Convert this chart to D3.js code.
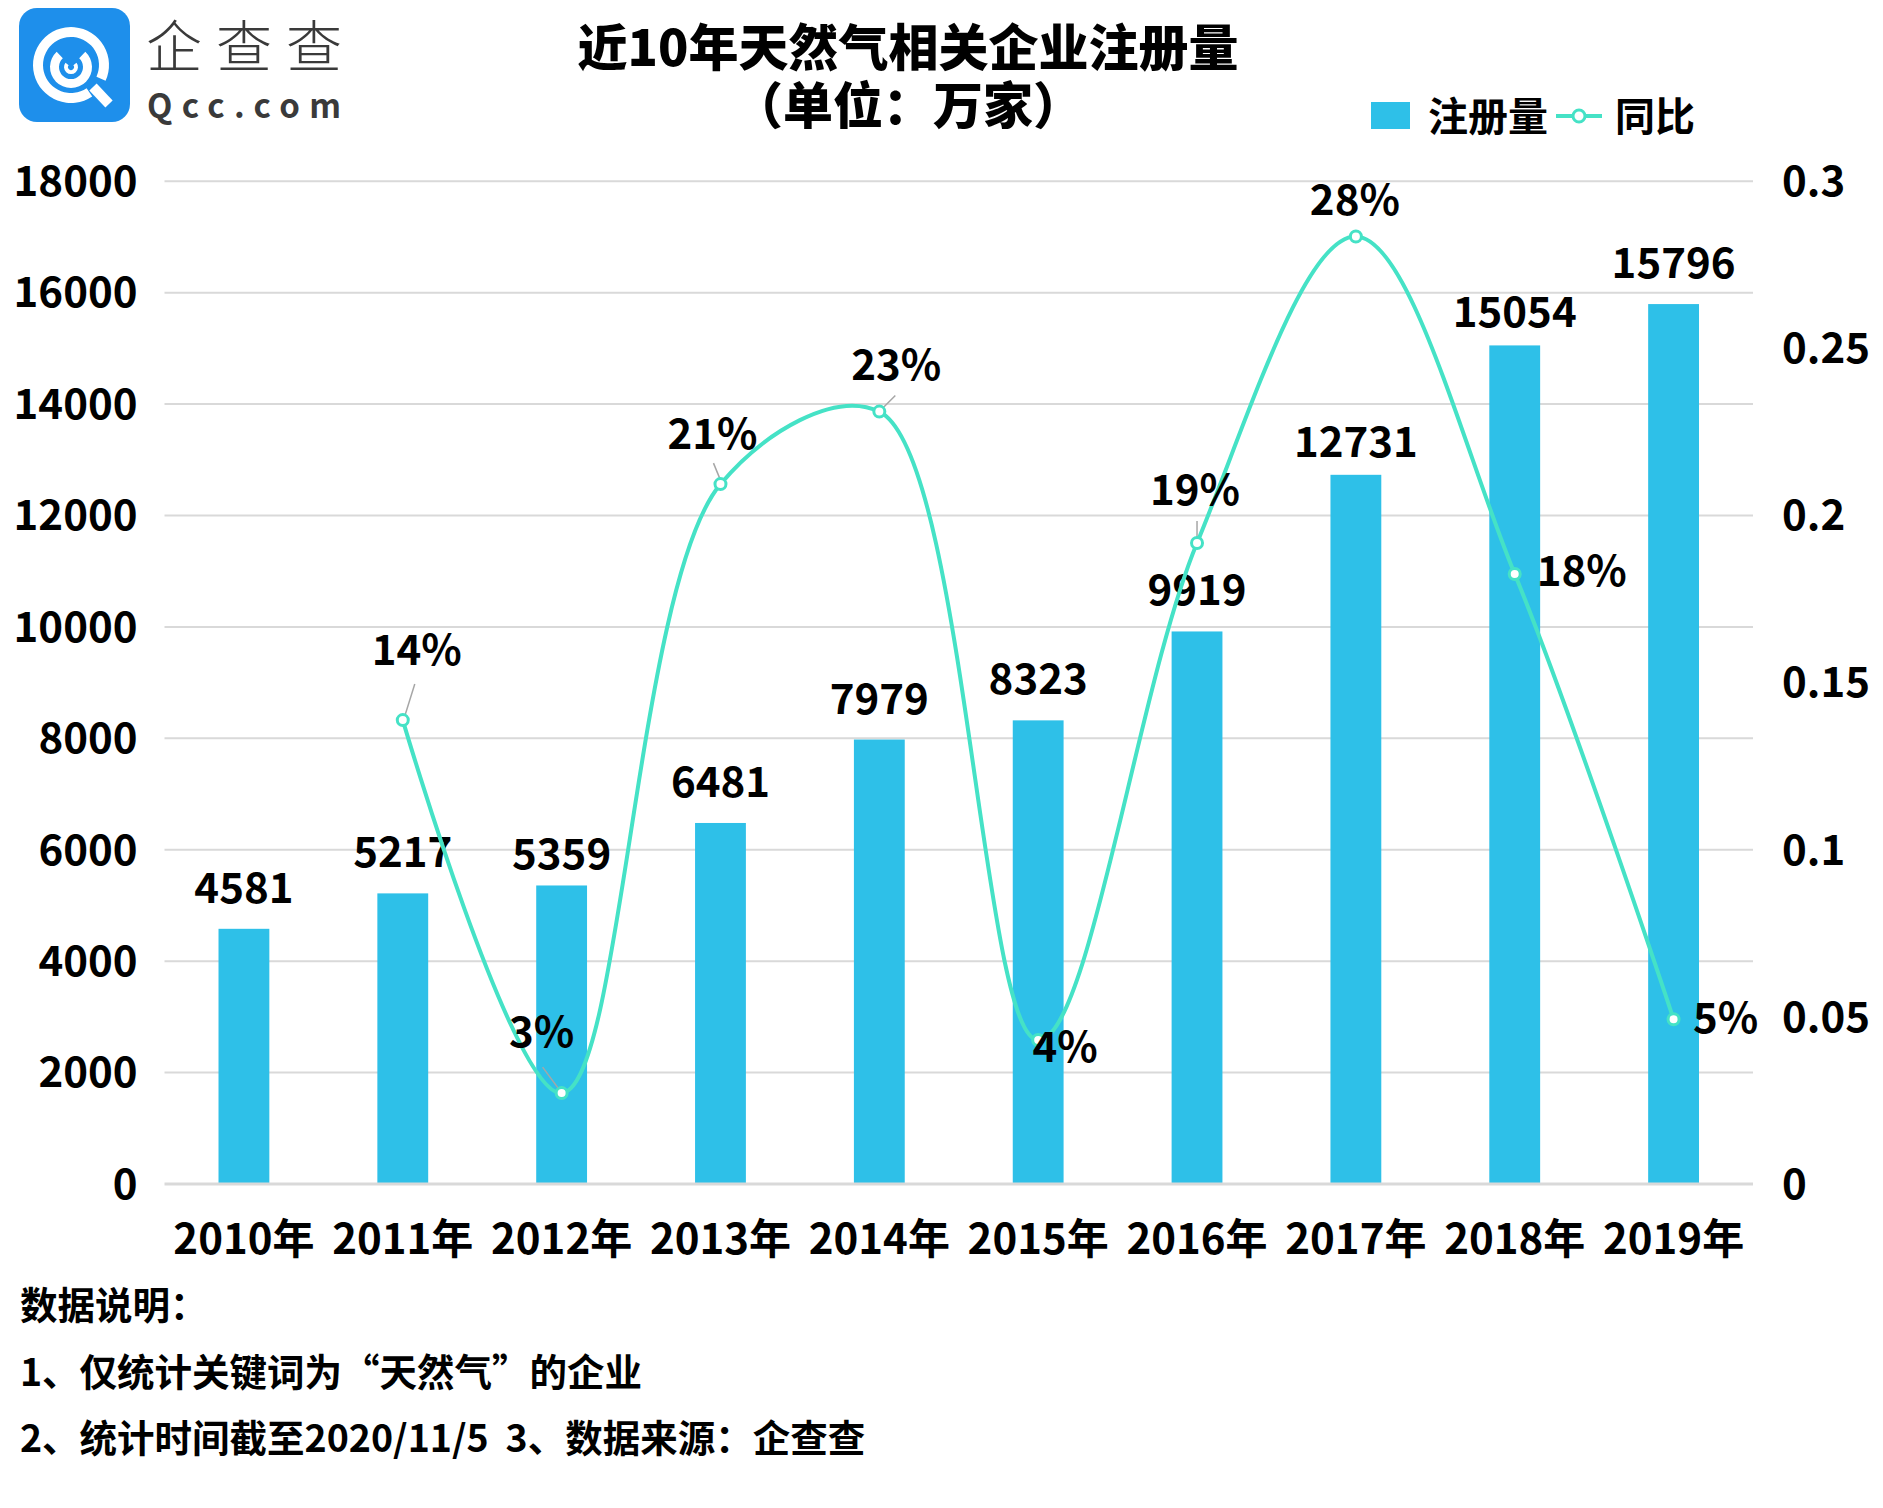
<!DOCTYPE html>
<html>
<head>
<meta charset="utf-8">
<script src="https://cdn.jsdelivr.net/npm/d3@7"></script>
<style>
  html, body { margin: 0; padding: 0; background: #ffffff; }
  svg { display: block; }
  text { font-family: "Noto Sans CJK SC", "Noto Sans", sans-serif; }
</style>
</head>
<body>
<svg id="chart" width="1883" height="1508"></svg>
<script>
// ---- data ----
const years = ["2010年","2011年","2012年","2013年","2014年","2015年","2016年","2017年","2018年","2019年"];
const registrations = [4581, 5217, 5359, 6481, 7979, 8323, 9919, 12731, 15054, 15796];
const yoy = [null, 0.1388, 0.0272, 0.2094, 0.2311, 0.0431, 0.1918, 0.2835, 0.1825, 0.0493];
const yoyLabels = [null, "14%", "3%", "21%", "23%", "4%", "19%", "28%", "18%", "5%"];
const leftTicks = [0, 2000, 4000, 6000, 8000, 10000, 12000, 14000, 16000, 18000];
const rightTicks = [0, 0.05, 0.1, 0.15, 0.2, 0.25, 0.3];
const title = ["近10年天然气相关企业注册量", "（单位：万家）"];
const legendNames = ["注册量", "同比"];
const notes = ["数据说明：", "1、仅统计关键词为“天然气”的企业", "2、统计时间截至2020/11/5  3、数据来源：企查查"];

// ---- layout (label offsets relative to each point / bar top) ----
const barLabelShift = [2, 2, 12, 2, 2, 2, 2, 10, 10, 2];
const labelOffsets = [null, [14,-55], [-20,-46], [-8,-35], [17,-32], [27,22], [-2,-38], [-1,-21], [67,12], [52,14]];
const leaderLines = [null, [[2,-4],[12,-36]], [[-2,-3],[-19,-26]], [[0,-4],[-7,-21]], [[4,-4],[16,-16]], null, [[0,-5],[0,-22]], null, null, null];

const svg = d3.select("#chart");
const plot = { left: 164.5, right: 1753, top: 181.3, bottom: 1184 };

const x = d3.scaleBand().domain(years).range([plot.left, plot.right]).padding(0);
const yL = d3.scaleLinear().domain([0, 18000]).range([plot.bottom, plot.top]);
const yR = d3.scaleLinear().domain([0, 0.3]).range([plot.bottom, plot.top]);

const barColor = "#2EC0E8";
const lineColor = "#45E2C6";

// ---- logo ----
const logo = svg.append("g");
logo.append("rect").attr("x", 19).attr("y", 8).attr("width", 111).attr("height", 114).attr("rx", 18).attr("fill", "#1E8FEB");
const arc = d3.arc();
const cx = 71, cy = 65;
logo.append("path").attr("transform", `translate(${cx},${cy})`)
  .attr("d", arc({innerRadius: 28, outerRadius: 38, startAngle: 2.55, endAngle: 2.55 + 2 * Math.PI - 0.55}))
  .attr("fill", "#fff");
logo.append("line").attr("x1", cx + 22).attr("y1", cy + 22).attr("x2", cx + 38).attr("y2", cy + 39)
  .attr("stroke", "#fff").attr("stroke-width", 10);
logo.append("path").attr("transform", `translate(${cx},${cy + 2})`)
  .attr("d", arc({innerRadius: 12, outerRadius: 21, startAngle: 0.75, endAngle: Math.PI * 2 - 0.75}))
  .attr("fill", "#fff");
logo.append("path").attr("transform", `translate(${cx},${cy + 2})`)
  .attr("d", arc({innerRadius: 3, outerRadius: 7, startAngle: 0.9, endAngle: Math.PI * 2 - 0.9}))
  .attr("fill", "#fff");
logo.append("text").attr("x", 146).attr("y", 67).attr("font-size", 56).attr("font-weight", 300)
  .attr("fill", "#3a3a3a").attr("textLength", 196).attr("lengthAdjust", "spacing").text("企查查");
logo.append("text").attr("x", 147).attr("y", 118).attr("font-size", 33).attr("font-weight", 700)
  .attr("font-family", "'DejaVu Sans', sans-serif")
  .attr("fill", "#3a3a3a").attr("textLength", 194).attr("lengthAdjust", "spacing").text("Qcc.com");

// ---- title (one text, two lines) ----
const titleText = svg.append("text").attr("text-anchor", "middle")
  .attr("font-size", 50).attr("font-weight", 900).attr("fill", "#000");
titleText.append("tspan").attr("x", 908).attr("y", 66).text(title[0]);
titleText.append("tspan").attr("x", 908).attr("y", 124).text(title[1]);

// ---- legend ----
const lg = svg.append("g");
lg.append("rect").attr("x", 1371).attr("y", 102).attr("width", 39).attr("height", 27).attr("fill", barColor);
lg.append("text").attr("x", 1428).attr("y", 131).attr("font-size", 40).attr("font-weight", 700).text(legendNames[0]);
lg.append("line").attr("x1", 1556).attr("x2", 1602).attr("y1", 116).attr("y2", 116).attr("stroke", lineColor).attr("stroke-width", 4);
lg.append("circle").attr("cx", 1579).attr("cy", 116).attr("r", 6).attr("fill", "#fff").attr("stroke", lineColor).attr("stroke-width", 3);
lg.append("text").attr("x", 1615).attr("y", 131).attr("font-size", 40).attr("font-weight", 700).text(legendNames[1]);

// ---- gridlines ----
svg.append("g").selectAll("line").data(leftTicks.filter(d => d > 0)).join("line")
  .attr("x1", plot.left).attr("x2", plot.right)
  .attr("y1", d => yL(d)).attr("y2", d => yL(d))
  .attr("stroke", "#d9d9d9").attr("stroke-width", 2);

// ---- axes ----
const axL = svg.append("g").attr("transform", `translate(${plot.left - 27},0)`)
  .call(d3.axisLeft(yL).tickValues(leftTicks).tickSize(0).tickPadding(0).tickFormat(d3.format("d")));
axL.select(".domain").remove();
axL.selectAll("text").attr("font-size", 42).attr("font-weight", 700).attr("fill", "#000")
  .attr("font-family", "'Noto Sans CJK SC', 'Noto Sans', sans-serif").attr("dy", "0.34em");

const axR = svg.append("g").attr("transform", `translate(${plot.right + 29},0)`)
  .call(d3.axisRight(yR).tickValues(rightTicks).tickSize(0).tickPadding(0).tickFormat(d => d === 0 ? "0" : String(d)));
axR.select(".domain").remove();
axR.selectAll("text").attr("font-size", 42).attr("font-weight", 700).attr("fill", "#000")
  .attr("font-family", "'Noto Sans CJK SC', 'Noto Sans', sans-serif").attr("dy", "0.34em");

// ---- bars ----
const bw = x.bandwidth() * 0.32;
svg.append("g").selectAll("rect").data(registrations).join("rect")
  .attr("x", (d, i) => x(years[i]) + x.bandwidth() / 2 - bw / 2)
  .attr("y", d => yL(d))
  .attr("width", bw)
  .attr("height", d => yL(0) - yL(d))
  .attr("fill", barColor);

const axB = svg.append("g").attr("transform", `translate(0,${plot.bottom})`)
  .call(d3.axisBottom(x).tickSize(0).tickPadding(0));
axB.select(".domain").attr("stroke", "#d9d9d9").attr("stroke-width", 3)
  .attr("d", `M${plot.left},0H${plot.right}`);
axB.selectAll("text").attr("font-size", 42).attr("font-weight", 700).attr("fill", "#000")
  .attr("font-family", "'Noto Sans CJK SC', sans-serif").attr("y", 70).attr("dy", 0);

// bar labels
svg.append("g").selectAll("text").data(registrations).join("text")
  .attr("x", (d, i) => x(years[i]) + x.bandwidth() / 2)
  .attr("y", (d, i) => yL(d) - 28 + barLabelShift[i])
  .attr("text-anchor", "middle").attr("font-size", 42).attr("font-weight", 700).attr("fill", "#000")
  .text(d => d);

// ---- line ----
const pts = yoy.map((v, i) => v == null ? null : [x(years[i]) + x.bandwidth() / 2, yR(v)]).filter(Boolean);
const line = d3.line().curve(d3.curveCatmullRom.alpha(0.5));
svg.append("path").attr("d", line(pts)).attr("fill", "none").attr("stroke", lineColor).attr("stroke-width", 4);

yoy.forEach((v, i) => {
  if (v == null || !leaderLines[i]) return;
  const px = x(years[i]) + x.bandwidth() / 2, py = yR(v);
  const [a, b] = leaderLines[i];
  svg.append("line").attr("x1", px + a[0]).attr("y1", py + a[1]).attr("x2", px + b[0]).attr("y2", py + b[1])
    .attr("stroke", "#a6a6a6").attr("stroke-width", 1.5);
});

svg.append("g").selectAll("circle").data(pts).join("circle")
  .attr("cx", d => d[0]).attr("cy", d => d[1]).attr("r", 5.5)
  .attr("fill", "#fff").attr("stroke", lineColor).attr("stroke-width", 3);

yoy.forEach((v, i) => {
  if (v == null) return;
  const px = x(years[i]) + x.bandwidth() / 2, py = yR(v);
  const [dx, dy] = labelOffsets[i];
  svg.append("text").attr("x", px + dx).attr("y", py + dy).attr("text-anchor", "middle")
    .attr("font-size", 42).attr("font-weight", 700).attr("fill", "#000").text(yoyLabels[i]);
});

// ---- notes ----
const noteY = [1319, 1386, 1452];
notes.forEach((t, i) => {
  svg.append("text").attr("x", 20).attr("y", noteY[i]).attr("font-size", 37.5).attr("font-weight", 700)
    .attr("fill", "#000").attr("xml:space", "preserve").text(t);
});
</script>
</body>
</html>
